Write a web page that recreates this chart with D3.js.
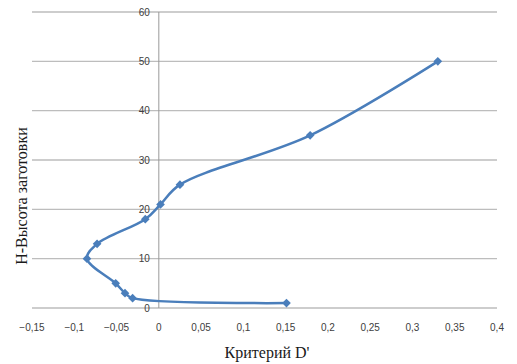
<!DOCTYPE html>
<html lang="ru">
<head>
<meta charset="UTF-8">
<title>Критерий D'</title>
<script src="https://d3js.org/d3.v7.min.js"></script>
<style>
  body { margin: 0; background: #fff; }
  .tick-label { font-family: "Liberation Sans", Arial, sans-serif; font-size: 10px; fill: #404040; }
  .title { font-family: "Liberation Serif", "DejaVu Serif", serif; font-size: 16px; fill: #1a1a1a; }
</style>
</head>
<body>
<svg id="chart" width="517" height="364"></svg>
<script>
// значения кривой (критерий D', высота H)
const critD = [0.151, -0.031, -0.040, -0.051, -0.085, -0.073, -0.016, 0.002, 0.025, 0.179, 0.330];
const heightH = [1, 2, 3, 5, 10, 13, 18, 21, 25, 35, 50];
const xTicks = [-0.15, -0.1, -0.05, 0, 0.05, 0.1, 0.15, 0.2, 0.25, 0.3, 0.35, 0.4];
const yTicks = [0, 10, 20, 30, 40, 50, 60];

const svg = d3.select("#chart");

const x = d3.scaleLinear().domain([-0.15, 0.4]).range([32, 497]);
const y = d3.scaleLinear().domain([0, 60]).range([308, 12]);

const fmt = v => d3.format("")(+v.toFixed(2)).replace(".", ",");

// горизонтальные линии сетки
svg.selectAll(".grid")
  .data(yTicks)
  .enter()
  .append("line")
  .attr("x1", x(-0.15)).attr("x2", x(0.4))
  .attr("y1", d => y(d)).attr("y2", d => y(d))
  .attr("stroke", "#bdbdbd")
  .attr("stroke-width", 1.3);

// вертикальная ось в нуле
svg.append("line")
  .attr("x1", x(0)).attr("x2", x(0))
  .attr("y1", y(60)).attr("y2", y(0))
  .attr("stroke", "#9a9a9a")
  .attr("stroke-width", 1);

// подписи оси Y
svg.selectAll(".ylab")
  .data(yTicks)
  .enter()
  .append("text")
  .attr("class", "tick-label")
  .attr("x", x(0) - 9)
  .attr("y", d => y(d) + 3.5)
  .attr("text-anchor", "end")
  .text(d => d);

// подписи оси X
svg.selectAll(".xlab")
  .data(xTicks)
  .enter()
  .append("text")
  .attr("class", "tick-label")
  .attr("x", d => x(d))
  .attr("y", 331)
  .attr("text-anchor", "middle")
  .text(d => fmt(d));

// сглаженная линия
const pts = critD.map((d, i) => [d, heightH[i]]);
const line = d3.line()
  .x(d => x(d[0]))
  .y(d => y(d[1]))
  .curve(d3.curveCatmullRom.alpha(0.5));

svg.append("path")
  .datum(pts)
  .attr("d", line)
  .attr("fill", "none")
  .attr("stroke", "#4a7ebb")
  .attr("stroke-width", 2.5);

// маркеры-ромбы
svg.selectAll(".pt")
  .data(pts)
  .enter()
  .append("path")
  .attr("d", d3.symbol().type(d3.symbolDiamond2).size(48))
  .attr("transform", d => `translate(${x(d[0])},${y(d[1])})`)
  .attr("fill", "#4a7ebb");

// заголовки осей
svg.append("text")
  .attr("class", "title")
  .attr("x", 267)
  .attr("y", 358)
  .attr("text-anchor", "middle")
  .text("Критерий D'");

svg.append("text")
  .attr("class", "title")
  .attr("transform", "translate(27,196) rotate(-90)")
  .attr("text-anchor", "middle")
  .text("Н-Высота заготовки");
</script>
</body>
</html>
